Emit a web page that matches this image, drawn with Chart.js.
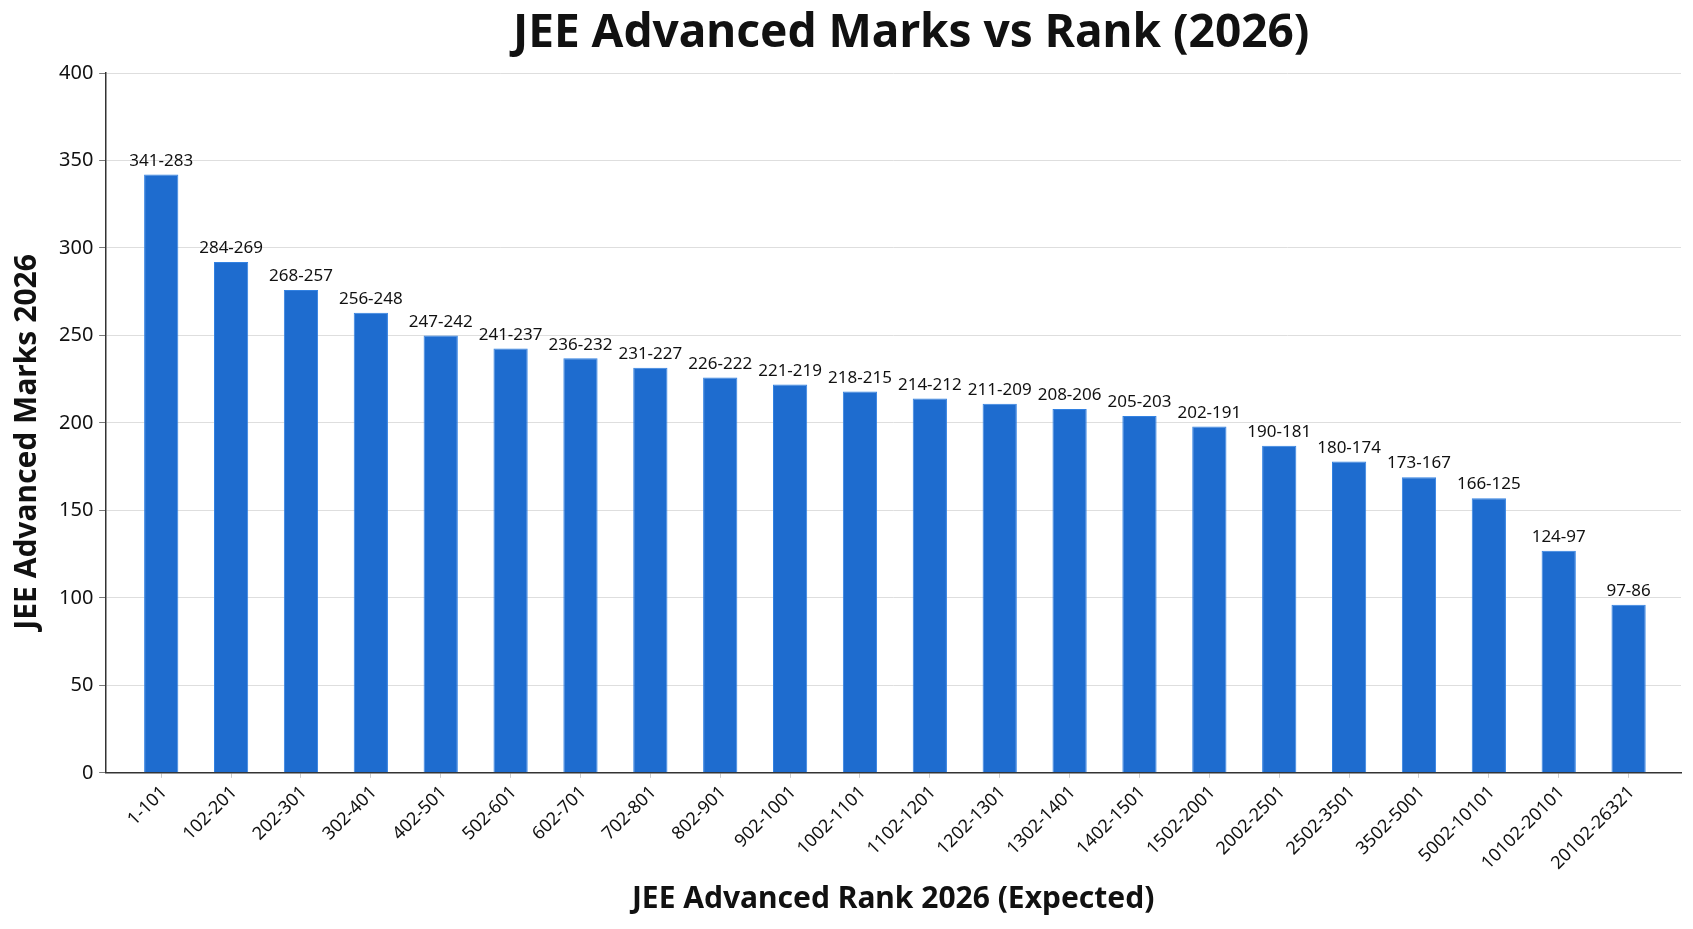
<!DOCTYPE html>
<html>
<head>
<meta charset="utf-8">
<script src="https://cdn.jsdelivr.net/npm/chart.js@4/dist/chart.umd.min.js"></script>
<style>
  html, body { margin: 0; padding: 0; background: #fff; }
  #wrap { width: 1693px; height: 929px; }
</style>
</head>
<body>
<div id="wrap"><canvas id="marksChart"></canvas></div>
<script>
// rank ranges (x axis)
const rankRanges = ['1-101', '102-201', '202-301', '302-401', '402-501', '502-601', '602-701',
    '702-801', '802-901', '902-1001', '1002-1101', '1102-1201', '1202-1301', '1302-1401',
    '1402-1501', '1502-2001', '2002-2501', '2502-3501', '3502-5001', '5002-10101',
    '10102-20101', '20102-26321'];

// bar heights
const marks = [342, 292, 276, 263, 250, 242.5, 237, 231.5, 226, 222, 218, 214, 211, 208,
    204, 198, 187, 178, 169, 157, 127, 96];

// text printed above each bar
const markRanges = ['341-283', '284-269', '268-257', '256-248', '247-242', '241-237', '236-232',
    '231-227', '226-222', '221-219', '218-215', '214-212', '211-209', '208-206', '205-203',
    '202-191', '190-181', '180-174', '173-167', '166-125', '124-97', '97-86'];

const yTicks = [0, 50, 100, 150, 200, 250, 300, 350, 400];

const chartTitle = 'JEE Advanced Marks vs Rank (2026)';
const yTitle = 'JEE Advanced Marks 2026';

const fontFamily = '"Noto Sans", "Open Sans", sans-serif';

// labels on top of bars
const barLabels = {
    id: 'barLabels',
    afterDatasetsDraw(chart) {
        const ctx = chart.ctx;
        const meta = chart.getDatasetMeta(0);
        ctx.save();
        ctx.font = '17px ' + fontFamily;
        ctx.fillStyle = '#111';
        ctx.textAlign = 'center';
        ctx.textBaseline = 'bottom';
        meta.data.forEach((bar, i) => {
            ctx.fillText(markRanges[i], bar.x, bar.y - 5);
        });
        ctx.restore();
    }
};

// main title and y title sit a bit right / lower than chart.js would put them
const sideTitles = {
    id: 'sideTitles',
    afterDraw(chart) {
        const ctx = chart.ctx;
        const area = chart.chartArea;
        ctx.save();
        ctx.fillStyle = '#111';
        ctx.textAlign = 'center';
        ctx.textBaseline = 'middle';
        ctx.font = 'bold 46px ' + fontFamily;
        ctx.fillText(chartTitle, (area.left + area.right) / 2 + 18, 34);
        ctx.translate(27, (area.top + area.bottom) / 2 + 19);
        ctx.rotate(-Math.PI / 2);
        ctx.font = 'bold 30px ' + fontFamily;
        ctx.fillText(yTitle, 0, 0);
        ctx.restore();
    }
};

const ctx = document.getElementById('marksChart');
new Chart(ctx, {
    type: 'bar',
    data: {
        datasets: [{
            data: marks.map((v, i) => ({ x: i, y: v })),
            backgroundColor: '#1E6CCF',
            borderColor: '#3382E2',
            borderWidth: 1,
            barPercentage: 0.49,
            categoryPercentage: 1
        }]
    },
    options: {
        responsive: true,
        maintainAspectRatio: false,
        animation: false,
        layout: { padding: { left: 53, right: 12, top: 73, bottom: 12 } },
        plugins: {
            legend: { display: false },
            tooltip: { enabled: false },
            title: { display: false }
        },
        scales: {
            x: {
                type: 'linear',
                min: -0.8,
                max: 21.75,
                offset: false,
                grid: {
                    offset: false,
                    drawOnChartArea: false,
                    drawTicks: true,
                    tickLength: 5,
                    tickColor: '#ccc'
                },
                border: { display: true, color: '#333', width: 1.5 },
                afterBuildTicks(scale) {
                    scale.ticks = rankRanges.map((_, i) => ({ value: i }));
                },
                ticks: {
                    autoSkip: false,
                    maxRotation: 45,
                    minRotation: 45,
                    color: '#111',
                    padding: 4,
                    labelOffset: 3,
                    font: { family: fontFamily, size: 18 },
                    callback: (v) => rankRanges[v]
                },
                title: {
                    display: true,
                    text: 'JEE Advanced Rank 2026 (Expected)',
                    color: '#111',
                    font: { family: fontFamily, size: 30, weight: 'bold' },
                    padding: { top: 3, bottom: 0 }
                }
            },
            y: {
                min: 0,
                max: 400,
                afterBuildTicks(scale) {
                    scale.ticks = yTicks.map(v => ({ value: v }));
                },
                grid: {
                    color: '#dedede',
                    borderDash: [6, 5],
                    tickLength: 6,
                    tickColor: '#555',
                    tickBorderDash: [1, 0]
                },
                border: { display: true, color: '#333', width: 1.5 },
                ticks: {
                    color: '#111',
                    padding: 6,
                    font: { family: fontFamily, size: 20 }
                }
            }
        }
    },
    plugins: [barLabels, sideTitles]
});
</script>
</body>
</html>
